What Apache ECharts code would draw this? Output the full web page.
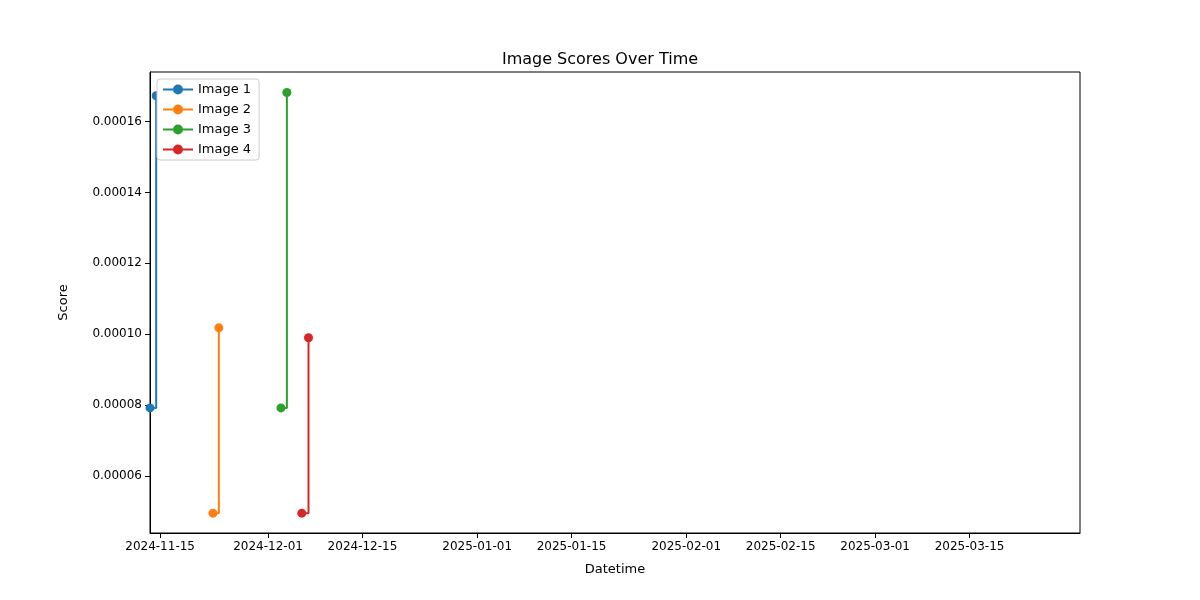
<!DOCTYPE html>
<html>
<head>
<meta charset="utf-8">
<script src="https://cdn.jsdelivr.net/npm/echarts@6/dist/echarts.min.js"></script>
<style>html,body{margin:0;padding:0;background:#fff}#chart{width:1200px;height:600px}</style>
</head>
<body>
<div id="chart"></div>
<script>
var names = ['Image 1', 'Image 2', 'Image 3', 'Image 4'];
var colors = ['#1f77b4', '#ff7f0e', '#2ca02c', '#d62728'];
var times = [
    ['2024-11-13T12:00:00', '2024-11-14T10:00:00'],
    ['2024-11-22T20:00:00', '2024-11-23T17:00:00'],
    ['2024-12-02T22:00:00', '2024-12-03T19:00:00'],
    ['2024-12-06T00:00:00', '2024-12-07T00:00:00']
];
var scores = [
    [0.0000792, 0.0001673],
    [0.0000495, 0.0001018],
    [0.0000792, 0.0001682],
    [0.0000495, 0.0000990]
];
var xTicks = ['2024-11-15', '2024-12-01', '2024-12-15', '2025-01-01', '2025-01-15',
              '2025-02-01', '2025-02-15', '2025-03-01', '2025-03-15'];
var yTicks = [0.00006, 0.00008, 0.00010, 0.00012, 0.00014, 0.00016];

var xTickMs = xTicks.map(function (d) { return +new Date(d + 'T00:00:00'); });
var font = 'DejaVu Sans';

function fmtDate(v) {
    var d = new Date(v);
    var m = d.getMonth() + 1, day = d.getDate();
    return d.getFullYear() + '-' + (m < 10 ? '0' : '') + m + '-' + (day < 10 ? '0' : '') + day;
}

var series = [];
for (var i in names) {
    var pts = [];
    for (var j in times[i]) {
        pts.push([+new Date(times[i][j]), scores[i][j]]);
    }
    series.push({
        name: names[i],
        type: 'line',
        step: 'end',
        data: pts,
        symbol: 'circle',
        symbolSize: 9,
        showAllSymbol: true,
        lineStyle: { width: 2, color: colors[i] },
        itemStyle: { color: colors[i] },
        z: 3
    });
}

var chart = echarts.init(document.getElementById('chart'));
chart.setOption({
    animation: false,
    title: {
        text: 'Image Scores Over Time',
        left: 'center', top: 47,
        textStyle: { fontFamily: font, fontSize: 16, fontWeight: 'normal', color: '#000' }
    },
    legend: {
        left: 157, top: 79, orient: 'vertical',
        backgroundColor: '#fff', borderColor: '#ccc', borderWidth: 1, borderRadius: 3,
        padding: [4, 8, 4, 6], itemGap: 7,
        itemWidth: 30, itemHeight: 10,
        icon: 'path://M0,4H30V6H0Z M10,5A5,5 0 1,1 20,5A5,5 0 1,1 10,5Z',
        textStyle: { fontFamily: font, fontSize: 13, color: '#000' },
        data: names
    },
    grid: { left: 150, right: 120, top: 72, bottom: 67, show: true, borderColor: '#000', borderWidth: 1 },
    xAxis: {
        type: 'value',
        min: +new Date('2024-11-13T12:00:00'),
        max: +new Date('2025-03-31T09:00:00'),
        name: 'Datetime', nameLocation: 'middle', nameGap: 30,
        nameTextStyle: { fontFamily: font, fontSize: 13, color: '#000' },
        axisLine: { lineStyle: { color: '#000' } },
        axisTick: { customValues: xTickMs, length: 5, lineStyle: { color: '#000' } },
        axisLabel: {
            customValues: xTickMs, fontFamily: font, fontSize: 12, color: '#000', margin: 8,
            formatter: fmtDate
        },
        splitLine: { show: false }
    },
    yAxis: {
        type: 'value',
        min: 0.0000439, max: 0.000174,
        name: 'Score', nameLocation: 'middle', nameGap: 80,
        nameTextStyle: { fontFamily: font, fontSize: 13, color: '#000' },
        axisLine: { show: true, lineStyle: { color: '#000' } },
        axisTick: { show: true, customValues: yTicks, length: 5, lineStyle: { color: '#000' } },
        axisLabel: {
            customValues: yTicks, fontFamily: font, fontSize: 12, color: '#000', margin: 8,
            formatter: function (v) { return v.toFixed(5); }
        },
        splitLine: { show: false }
    },
    series: series
});
</script>
</body>
</html>
